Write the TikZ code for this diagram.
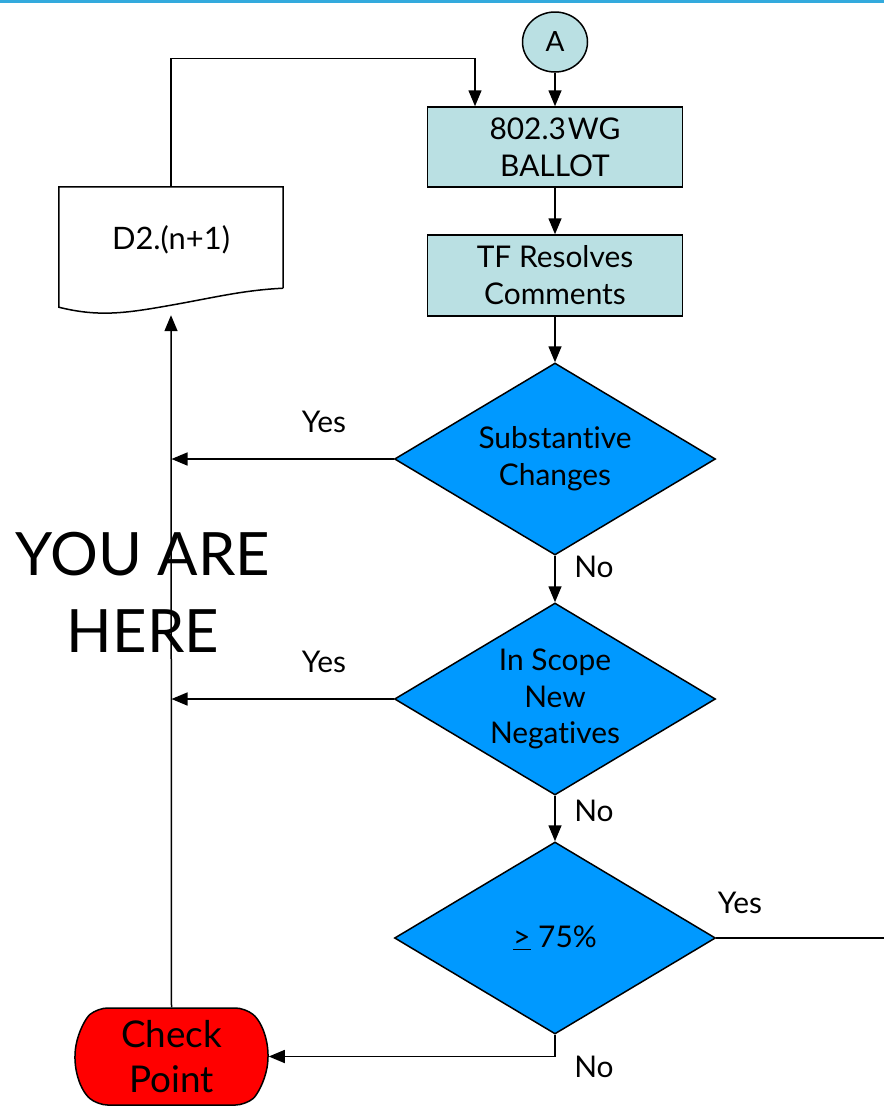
\documentclass[tikz,border=0pt]{standalone}
\usepackage{fontspec}
\setmainfont{Lato}[Ligatures=CommonOff]
\usetikzlibrary{shapes.geometric,shapes.misc,arrows.meta}
\definecolor{boxcyan}{RGB}{186,224,227}
\definecolor{decblue}{RGB}{0,153,255}
\definecolor{ruleblue}{RGB}{51,170,221}

\begin{document}
\begin{tikzpicture}[x=1bp,y=1bp,
	flow/.style={line width=1.5bp, -{Triangle[length=16bp,width=13bp]}},
	plain/.style={line width=1.5bp},
	stepbox/.style={draw, line width=1.5bp, fill=boxcyan, minimum width=255bp, minimum height=80bp, inner sep=0pt, align=center, font=\fontsize{30}{37}\selectfont},
	decision/.style={diamond, draw, line width=1.5bp, fill=decblue, aspect=1.67, minimum width=321bp, minimum height=192bp, inner sep=0pt, align=center, font=\fontsize{30}{37}\selectfont},
	answer/.style={anchor=base, font=\fontsize{30}{37}\selectfont}
	]
	\useasboundingbox (0,0) rectangle (884,-1109);
	\draw[ruleblue, line width=3bp] (0,-1.5) -- (884,-1.5);
	
	% main column
	\node[ellipse, draw, line width=1.5bp, fill=boxcyan, minimum width=65bp, minimum height=60bp, inner sep=0pt, font=\fontsize{28}{37}\selectfont] (a) at (555,-42) {A};
	\node[stepbox] (ballot) at (555,-147) {802.3\kern2bp WG\\BALLOT};
	\node[stepbox, minimum height=81bp] (resolve) at (555,-275.5) {TF Resolves\\Comments};
	\node[decision] (sub) at (555,-459) {Substantive\\Changes};
	\node[decision] (scope) at (555,-699) {In Scope\\New\\Negatives};
	\node[decision] (pct) at (555,-938) {\underline{>} 75\%};
	\node[rounded rectangle, rounded rectangle arc length=100, rounded corners=10bp, draw, line width=1.5bp, fill=red, minimum width=193bp, minimum height=97bp, inner sep=0pt, align=center, font=\fontsize{37}{45}\selectfont] (cp) at (171.5,-1056.5) {Check\\Point};
	
	% document
	\node[minimum width=224bp, minimum height=106bp, inner sep=0pt, font=\fontsize{31}{37}\selectfont] (doc) at (171,-240) {D2.(n+1)};
	\draw[plain] ([yshift=5bp]doc.south east) -- (doc.north east) -- (doc.north west) -- ([yshift=-14bp]doc.south west)
		.. controls +(40,-10) and +(-45,-8) .. ([yshift=-12bp]doc.south)
		.. controls +(45,8) and +(-40,-2) .. ([yshift=5bp]doc.south east);
	
	\node[font=\fontsize{60}{77}\selectfont, align=center] (here) at (143,-592) {YOU ARE\\HERE};
	
	% connectors
	\draw[flow] (a.south) -- (ballot.north);
	\draw[flow] (ballot.south) -- (resolve.north);
	\draw[flow] (resolve.south) -- (sub.north);
	\draw[flow] (sub.south) -- (scope.north);
	\draw[flow] (scope.south) -- (pct.north);
	\draw[flow] (pct.south) |- (cp.east);
	\draw[flow] (cp.north) -- ([yshift=-22bp]doc.south);
	\draw[flow] (sub.west) -- (sub.west -| cp.north);
	\draw[flow] (scope.west) -- (scope.west -| cp.north);
	\draw[flow] (doc.north) |- ([xshift=-80bp,yshift=48bp]ballot.north) -- ([xshift=-80bp]ballot.north);
	\coordinate (exit) at (884,-938);
	\draw[plain] (pct.east) -- (exit);
	
	% labels
	\node[answer] (yes1) at (324,-432) {Yes};
	\node[answer] (yes2) at (324,-672) {Yes};
	\node[answer] (yes3) at (740,-913) {Yes};
	\node[answer] (no1) at (594,-577) {No};
	\node[answer] (no2) at (594,-821) {No};
	\node[answer] (no3) at (594,-1077) {No};
	
\end{tikzpicture}
\end{document}
